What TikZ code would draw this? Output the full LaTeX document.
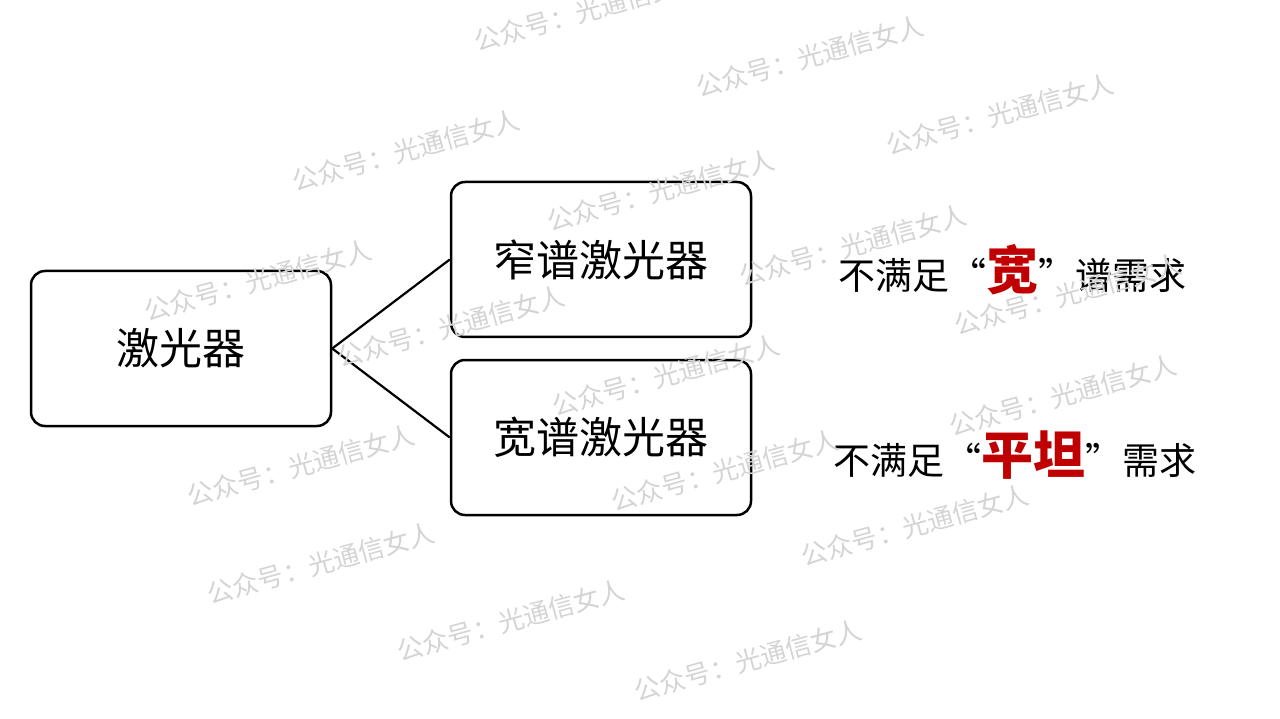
\documentclass[tikz,border=0pt]{standalone}
\usepackage{fontspec}
\setmainfont{Noto Sans CJK SC}
\definecolor{accent}{HTML}{C00000}
\begin{document}
\begin{tikzpicture}[x=1pt,y=-1pt]
\useasboundingbox (0,0) rectangle (1280,719);
\tikzset{
  box/.style={draw, line width=2.5pt, rounded corners=14pt, minimum width=300pt, minimum height=155pt, inner sep=0pt, font=\fontsize{43}{50}\selectfont},
  conn/.style={line width=2.2pt},
  note/.style={anchor=west, inner sep=0pt, font=\fontsize{37}{44}\selectfont},
  wm/.style={text=black!17, rotate=15.5, anchor=west, inner sep=0pt, font=\fontsize{26}{26}\selectfont}
}
\newcommand{\hlt}[1]{{\color{accent}\bfseries\fontsize{52}{60}\selectfont #1}}
\node[box] (root) at (181,348.5) {激光器};
\node[box] (narrow) at (601,259.5) {窄谱激光器};
\node[box] (wide) at (601,437.5) {宽谱激光器};
\draw[conn] (root.east) -- (narrow.west);
\draw[conn] (root.east) -- (wide.west);
\node[note] (t1) at (838,270) {不满足“\hlt{宽}”谱需求};
\node[note] (t2) at (833,455) {不满足“\hlt{平坦}”需求};
% watermarks
\node[wm] (w1) at (475,42) {公众号：光通信女人};
\node[wm] (w2) at (697,88) {公众号：光通信女人};
\node[wm] (w3) at (293,182) {公众号：光通信女人};
\node[wm] (w4) at (887,146) {公众号：光通信女人};
\node[wm] (w5) at (548,222) {公众号：光通信女人};
\node[wm] (w6) at (740,277) {公众号：光通信女人};
\node[wm] (w7) at (145,312) {公众号：光通信女人};
\node[wm] (w8) at (955,326) {公众号：光通信女人};
\node[wm] (w9) at (338,358) {公众号：光通信女人};
\node[wm] (w10) at (553,407) {公众号：光通信女人};
\node[wm] (w11) at (950,427) {公众号：光通信女人};
\node[wm] (w12) at (188,497) {公众号：光通信女人};
\node[wm] (w13) at (612,502) {公众号：光通信女人};
\node[wm] (w14) at (802,557) {公众号：光通信女人};
\node[wm] (w15) at (208,595) {公众号：光通信女人};
\node[wm] (w16) at (398,652) {公众号：光通信女人};
\node[wm] (w17) at (635,692) {公众号：光通信女人};
\end{tikzpicture}
\end{document}
